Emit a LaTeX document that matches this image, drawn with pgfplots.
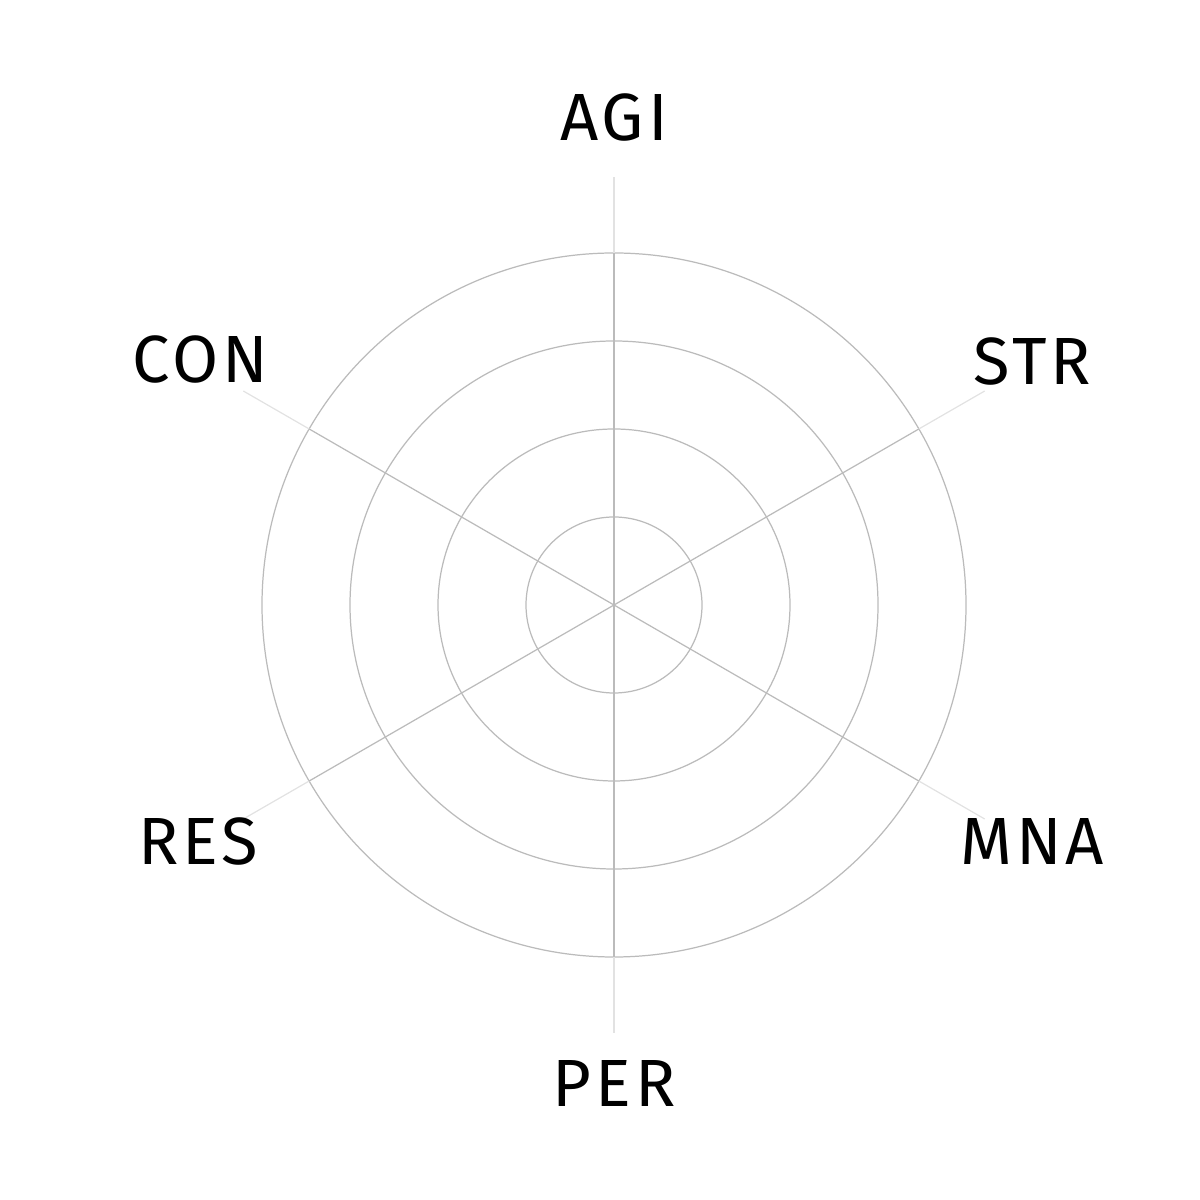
\documentclass[border=0pt]{standalone}
\usepackage{pgfplots}
\pgfplotsset{compat=1.18}
\usepackage{fontspec}
\setmainfont{Fira Sans}
\newfontfamily\lblfont[LetterSpace=6]{Fira Sans}
\definecolor{gridc}{HTML}{BBBBBB}
\definecolor{fadec}{HTML}{E2E2E2}
\begin{document}
\begin{tikzpicture}
\begin{axis}[
  scale only axis, width=12cm, height=12cm,
  xmin=-614, xmax=586, ymin=-595, ymax=605,
  hide axis, clip=false,
]
% grid rings
\draw[gridc, line width=0.35pt] (axis cs:0,0) circle[radius=88];
\draw[gridc, line width=0.35pt] (axis cs:0,0) circle[radius=176];
\draw[gridc, line width=0.35pt] (axis cs:0,0) circle[radius=264];
\draw[gridc, line width=0.35pt] (axis cs:0,0) circle[radius=352];
% spokes (inner solid, outer faded)
\addplot[gridc, line width=0.35pt] coordinates {(0,0) (0,352)};
\addplot[gridc, line width=0.35pt] coordinates {(0,0) (304.8,176)};
\addplot[gridc, line width=0.35pt] coordinates {(0,0) (304.8,-176)};
\addplot[gridc, line width=0.35pt] coordinates {(0,0) (0,-352)};
\addplot[gridc, line width=0.35pt] coordinates {(0,0) (-304.8,-176)};
\addplot[gridc, line width=0.35pt] coordinates {(0,0) (-304.8,176)};
\addplot[fadec, line width=0.35pt] coordinates {(0,352) (0,428)};
\addplot[fadec, line width=0.35pt] coordinates {(304.8,176) (370.7,214)};
\addplot[fadec, line width=0.35pt] coordinates {(304.8,-176) (370.7,-214)};
\addplot[fadec, line width=0.35pt] coordinates {(0,-352) (0,-428)};
\addplot[fadec, line width=0.35pt] coordinates {(-304.8,-176) (-370.7,-214)};
\addplot[fadec, line width=0.35pt] coordinates {(-304.8,176) (-370.7,214)};
% labels
\node[font=\lblfont\fontsize{19}{22}\selectfont] at (axis cs:0,487) {AGI};
\node[font=\lblfont\fontsize{19}{22}\selectfont] at (axis cs:418,243) {STR};
\node[font=\lblfont\fontsize{19}{22}\selectfont] at (axis cs:418,-236) {MNA};
\node[font=\lblfont\fontsize{19}{22}\selectfont] at (axis cs:0,-478) {PER};
\node[font=\lblfont\fontsize{19}{22}\selectfont] at (axis cs:-416,-236) {RES};
\node[font=\lblfont\fontsize{19}{22}\selectfont] at (axis cs:-414,245) {CON};
\end{axis}
\useasboundingbox (0,0) rectangle (12cm,12cm);
\end{tikzpicture}
\end{document}
